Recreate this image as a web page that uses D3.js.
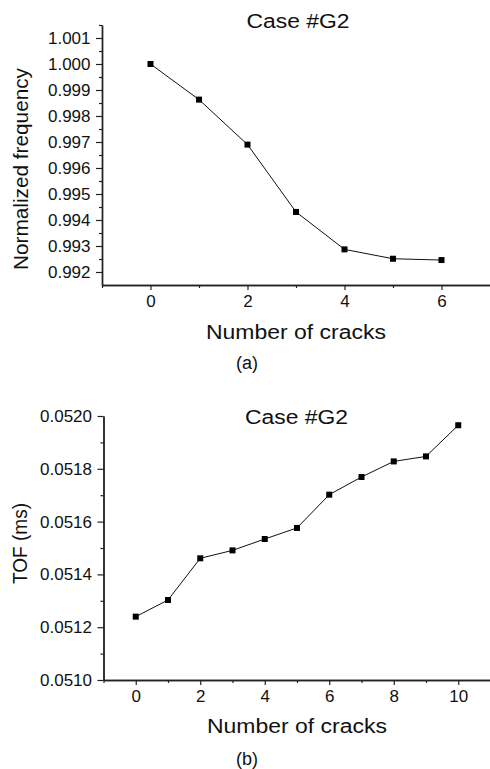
<!DOCTYPE html>
<html>
<head>
<meta charset="utf-8">
<script src="https://cdn.jsdelivr.net/npm/d3@7"></script>
<style>
  html, body { margin: 0; padding: 0; background: #fff; }
  svg { display: block; }
  text { font-family: Arial, "Liberation Sans", Helvetica, sans-serif; fill: #111; }
</style>
</head>
<body>
<svg id="chart" width="490" height="769"></svg>
<script>
// Panel (a): normalized frequency vs. number of cracks
const cracksA = [0, 1, 2, 3, 4, 5, 6];
const freqA = [1.0000, 0.99863, 0.99690, 0.99431, 0.99287, 0.99251, 0.99246];
const xTicksA = [0, 2, 4, 6];
const xMinorA = [-1, 1, 3, 5];
const yTicksA = [0.992, 0.993, 0.994, 0.995, 0.996, 0.997, 0.998, 0.999, 1.000, 1.001];
const yTickLabelsA = ["0.992", "0.993", "0.994", "0.995", "0.996", "0.997", "0.998", "0.999", "1.000", "1.001"];
const yMinorA = [0.9925, 0.9935, 0.9945, 0.9955, 0.9965, 0.9975, 0.9985, 0.9995, 1.0005, 1.0015];

// Panel (b): time of flight vs. number of cracks
const cracksB = [0, 1, 2, 3, 4, 5, 6, 7, 8, 9, 10];
const tofB = [0.051240, 0.051303, 0.051461, 0.051491, 0.051534, 0.051576, 0.051702, 0.051769, 0.051828, 0.051847, 0.051965];
const xTicksB = [0, 2, 4, 6, 8, 10];
const xMinorB = [-1, 1, 3, 5, 7, 9];
const yTicksB = [0.0510, 0.0512, 0.0514, 0.0516, 0.0518, 0.0520];
const yTickLabelsB = ["0.0510", "0.0512", "0.0514", "0.0516", "0.0518", "0.0520"];
const yMinorB = [0.0511, 0.0513, 0.0515, 0.0517, 0.0519];

const svg = d3.select("#chart");
svg.append("rect").attr("width", 490).attr("height", 769).attr("fill", "#fff");

function drawPanel(p) {
  const g = svg.append("g");
  const x = d3.scaleLinear().domain(p.xDomain).range(p.xRange);
  const y = d3.scaleLinear().domain(p.yDomain).range(p.yRange);
  const x0 = p.xRange[0], y0 = p.yRange[0];

  // minor ticks (no labels)
  g.append("g").attr("transform", `translate(0,${y0})`)
    .call(d3.axisBottom(x).tickValues(p.xMinor).tickSize(3).tickSizeOuter(0).tickFormat(""));
  g.append("g").attr("transform", `translate(${x0},0)`)
    .call(d3.axisLeft(y).tickValues(p.yMinor).tickSize(3).tickSizeOuter(0).tickFormat(""));

  // major ticks with labels
  g.append("g").attr("transform", `translate(0,${y0})`)
    .call(d3.axisBottom(x).tickValues(p.xTicks).tickSize(5).tickPadding(4.5).tickSizeOuter(0)
      .tickFormat(d => String(d)));
  g.append("g").attr("transform", `translate(${x0},0)`)
    .call(d3.axisLeft(y).tickValues(p.yTicks).tickSize(6).tickPadding(5.5).tickSizeOuter(0)
      .tickFormat((d, i) => p.yLabels[i]));

  g.selectAll(".domain").attr("stroke", "#222").attr("stroke-width", 1.4);
  g.selectAll(".tick line").attr("stroke", "#222").attr("stroke-width", 1.2);
  g.selectAll(".tick text").attr("font-size", 17).attr("fill", "#111")
    .attr("font-family", "Arial, 'Liberation Sans', sans-serif");

  // data line and square markers
  const pts = p.xs.map((v, i) => [v, p.ys[i]]);
  g.append("path").datum(pts)
    .attr("fill", "none").attr("stroke", "#111").attr("stroke-width", 1)
    .attr("d", d3.line().x(d => x(d[0])).y(d => y(d[1])));
  g.selectAll("rect.mk").data(pts).join("rect").attr("class", "mk")
    .attr("x", d => x(d[0]) - 3).attr("y", d => y(d[1]) - 3)
    .attr("width", 6).attr("height", 6).attr("fill", "#000");

  // titles
  g.append("text").attr("x", p.title.x).attr("y", p.title.y)
    .attr("text-anchor", "middle").attr("font-size", 20)
    .attr("textLength", 103).attr("lengthAdjust", "spacingAndGlyphs")
    .text("Case #G2");
  g.append("text").attr("x", p.xLabel.x).attr("y", p.xLabel.y)
    .attr("text-anchor", "middle").attr("font-size", 20)
    .attr("textLength", 180).attr("lengthAdjust", "spacingAndGlyphs")
    .text("Number of cracks");
  g.append("text")
    .attr("transform", `translate(${p.yLabel.x},${p.yLabel.y}) rotate(-90)`)
    .attr("text-anchor", "middle").attr("font-size", 20)
    .attr("textLength", p.yLabel.len).attr("lengthAdjust", "spacingAndGlyphs")
    .text(p.yLabel.text);
  g.append("text").attr("x", 247).attr("y", p.caption.y)
    .attr("text-anchor", "middle").attr("font-size", 18)
    .text(p.caption.text);
}

drawPanel({
  xs: cracksA, ys: freqA,
  xDomain: [-1, 7], xRange: [102, 490],
  yDomain: [0.9915, 1.0015], yRange: [285, 25],
  xTicks: xTicksA, xMinor: xMinorA,
  yTicks: yTicksA, yLabels: yTickLabelsA, yMinor: yMinorA,
  title: { x: 298, y: 28 },
  xLabel: { x: 296, y: 339 },
  yLabel: { x: 27.5, y: 169, text: "Normalized frequency", len: 202 },
  caption: { y: 369, text: "(a)" }
});

drawPanel({
  xs: cracksB, ys: tofB,
  xDomain: [-1, 11], xRange: [103.5, 490.5],
  yDomain: [0.0510, 0.0520], yRange: [680, 416],
  xTicks: xTicksB, xMinor: xMinorB,
  yTicks: yTicksB, yLabels: yTickLabelsB, yMinor: yMinorB,
  title: { x: 296.5, y: 424 },
  xLabel: { x: 297, y: 733 },
  yLabel: { x: 26.5, y: 543.5, text: "TOF (ms)", len: 81 },
  caption: { y: 764.5, text: "(b)" }
});
</script>
</body>
</html>
